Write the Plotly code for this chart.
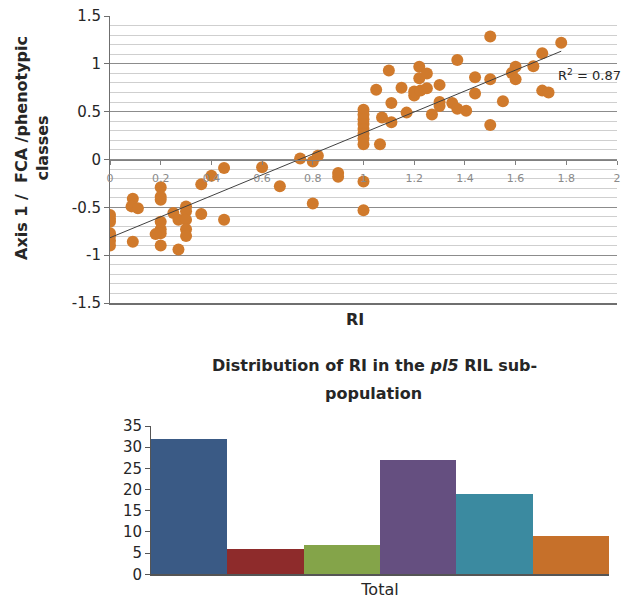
import numpy as np
import plotly.graph_objects as go

# ---- scatter data (RI vs Axis 1 FCA) ----
ri = [0, 0, 0, 0, 0, 0, 0,
      0.09, 0.085, 0.11, 0.09,
      0.2, 0.2, 0.2, 0.2, 0.2, 0.2, 0.2, 0.18,
      0.25, 0.27, 0.27,
      0.3, 0.3, 0.3, 0.3, 0.3,
      0.36, 0.36, 0.4, 0.45, 0.45,
      0.6, 0.67, 0.75, 0.8, 0.82, 0.8, 0.9, 0.9,
      1.0, 1.0, 1.0, 1.0, 1.0, 1.0, 1.0, 1.0, 1.0, 1.0,
      1.065, 1.073, 1.05, 1.1, 1.11, 1.11, 1.15, 1.17, 1.2, 1.2,
      1.22, 1.22, 1.225, 1.25, 1.25, 1.27, 1.3, 1.3, 1.3, 1.35,
      1.37, 1.37, 1.405, 1.44, 1.44, 1.5, 1.5, 1.5, 1.55, 1.585,
      1.6, 1.6, 1.67, 1.705, 1.705, 1.73, 1.78]
axis1 = [-0.58, -0.62, -0.65, -0.77, -0.80, -0.85, -0.90,
         -0.41, -0.49, -0.51, -0.86,
         -0.29, -0.39, -0.42, -0.65, -0.73, -0.77, -0.90, -0.78,
         -0.56, -0.94, -0.63,
         -0.49, -0.54, -0.63, -0.73, -0.80,
         -0.26, -0.57, -0.17, -0.09, -0.63,
         -0.08, -0.28, 0.01, -0.02, 0.04, -0.46, -0.14, -0.18,
         -0.23, -0.53, 0.52, 0.47, 0.42, 0.37, 0.32, 0.27, 0.22, 0.16,
         0.16, 0.44, 0.73, 0.93, 0.59, 0.39, 0.75, 0.49, 0.67, 0.71,
         0.97, 0.85, 0.72, 0.90, 0.745, 0.47, 0.78, 0.60, 0.56, 0.59,
         0.53, 1.04, 0.51, 0.86, 0.69, 1.285, 0.84, 0.36, 0.61, 0.905,
         0.97, 0.84, 0.975, 1.11, 0.72, 0.70, 1.22]

y_tickvals = [1.5, 1, 0.5, 0, -0.5, -1, -1.5]
y_ticktext = ["1.5", "1", "0.5", "0", "-0.5", "-1", "-1.5"]
x_tickvals = [0, 0.2, 0.4, 0.6, 0.8, 1, 1.2, 1.4, 1.6, 1.8, 2]
x_ticktext = ["0", "0.2", "0.4", "0.6", "0.8", "1", "1.2", "1.4", "1.6", "1.8", "2"]

# ---- bar data (distribution of RI) ----
bar_category = ["Total"]
bar_values = [32, 6, 7, 27, 19, 9]
bar_colors = ["#3A5A85", "#8E2B2B", "#84A449", "#654F80", "#3B8AA0", "#C6702A"]
bar_tickvals = [0, 5, 10, 15, 20, 25, 30, 35]

FONT = "DejaVu Sans"
TXT = "#262626"

# page has an 8px body margin; size the figure so it fills the window exactly
OFF = 8
W, H = 632 - OFF, 600 - OFF


def fx(X):
    return (X - OFF) / W


def fy(Y):
    return 1 - (Y - OFF) / H


fig = go.Figure()

# scatter
fig.add_trace(go.Scatter(x=ri, y=axis1, mode="markers",
                         marker=dict(size=12, color="#D07A2C", line=dict(width=0)),
                         xaxis="x", yaxis="y", showlegend=False))

# linear trendline from data
slope, intercept = np.polyfit(ri, axis1, 1)
xfit = [0, max(ri)]
yfit = [intercept + slope * v for v in xfit]
fig.add_trace(go.Scatter(x=xfit, y=yfit, mode="lines",
                         line=dict(color="#404040", width=1),
                         xaxis="x2", yaxis="y", showlegend=False))

# bars
for v, c in zip(bar_values, bar_colors):
    fig.add_trace(go.Bar(x=bar_category, y=[v], marker=dict(color=c, line=dict(width=0)),
                         xaxis="x3", yaxis="y3", showlegend=False))

top_dom = [fy(303), fy(16)]
zero_pos = top_dom[0] + (top_dom[1] - top_dom[0]) * 0.5

fig.update_layout(
    width=W, height=H,
    margin=dict(l=0, r=0, t=0, b=0, autoexpand=False),
    paper_bgcolor="white", plot_bgcolor="white",
    font=dict(family=FONT, color=TXT),
    barmode="group", bargap=0, bargroupgap=0,
    xaxis=dict(domain=[fx(110), fx(617)], range=[0, 2], anchor="y", automargin=False,
               showline=True, linecolor="#6f6f6f", linewidth=1.5,
               showgrid=False, zeroline=False, showticklabels=False, ticks=""),
    xaxis2=dict(overlaying="x", matches="x", range=[0, 2], anchor="free", position=zero_pos,
                side="bottom", automargin=False, showline=True, linecolor="#808080", linewidth=1,
                showgrid=False, zeroline=False, ticks="outside", ticklen=4, tickcolor="#808080",
                tickvals=x_tickvals, ticktext=x_ticktext, ticklabelstandoff=4,
                tickfont=dict(size=11, color="#8a8a8a", family=FONT)),
    yaxis=dict(domain=top_dom, range=[-1.5, 1.5], anchor="x", automargin=False,
               showline=True, linecolor="#6f6f6f", linewidth=1,
               ticks="outside", ticklen=5, tickcolor="#6f6f6f",
               tickvals=y_tickvals, ticktext=y_ticktext, ticklabeloverflow="allow",
               tickfont=dict(size=15, color=TXT, family=FONT),
               showgrid=True, gridcolor="#8c8c8c", gridwidth=1, zeroline=False,
               minor=dict(dtick=0.1, showgrid=True, gridcolor="#cfcfcf", gridwidth=1, ticks="")),
    xaxis3=dict(domain=[fx(151), fx(609)], anchor="y3", automargin=False,
                showline=True, linecolor="#555555", linewidth=1.5,
                ticks="", tickfont=dict(size=16, color=TXT, family=FONT), showgrid=False),
    yaxis3=dict(domain=[fy(574.3), fy(426)], range=[0, 35], anchor="x3",
                automargin=False, showline=True, linecolor="#555555", linewidth=1,
                ticks="outside", ticklen=5, tickcolor="#555555",
                tickvals=bar_tickvals, tickfont=dict(size=15, color=TXT, family=FONT),
                showgrid=False, zeroline=False),
    annotations=[
        dict(text="<b>Axis 1 /  FCA /phenotypic<br>classes</b>", textangle=-90,
             x=fx(32), y=fy(148), xref="paper", yref="paper",
             xanchor="center", yanchor="middle",
             showarrow=False, font=dict(size=16, color=TXT, family=FONT)),
        dict(text="<b>RI</b>", x=fx(355), y=fy(320), xref="paper", yref="paper",
             xanchor="center", yanchor="middle",
             showarrow=False, font=dict(size=16, color=TXT, family=FONT)),
        dict(text="R<sup>2</sup> = 0.87", x=1.76, y=0.88, xref="x", yref="y",
             xanchor="left", yanchor="middle", showarrow=False,
             font=dict(size=13, color=TXT, family=FONT)),
        dict(text="<b>Distribution of RI in the <i>pl5</i> RIL sub-</b>",
             x=fx(374), y=fy(365), xref="paper", yref="paper",
             xanchor="center", yanchor="middle",
             showarrow=False, font=dict(size=16, color=TXT, family=FONT)),
        dict(text="<b>population</b>",
             x=fx(373), y=fy(393), xref="paper", yref="paper",
             xanchor="center", yanchor="middle",
             showarrow=False, font=dict(size=16, color=TXT, family=FONT)),
    ],
)

fig.write_html("out.html")
